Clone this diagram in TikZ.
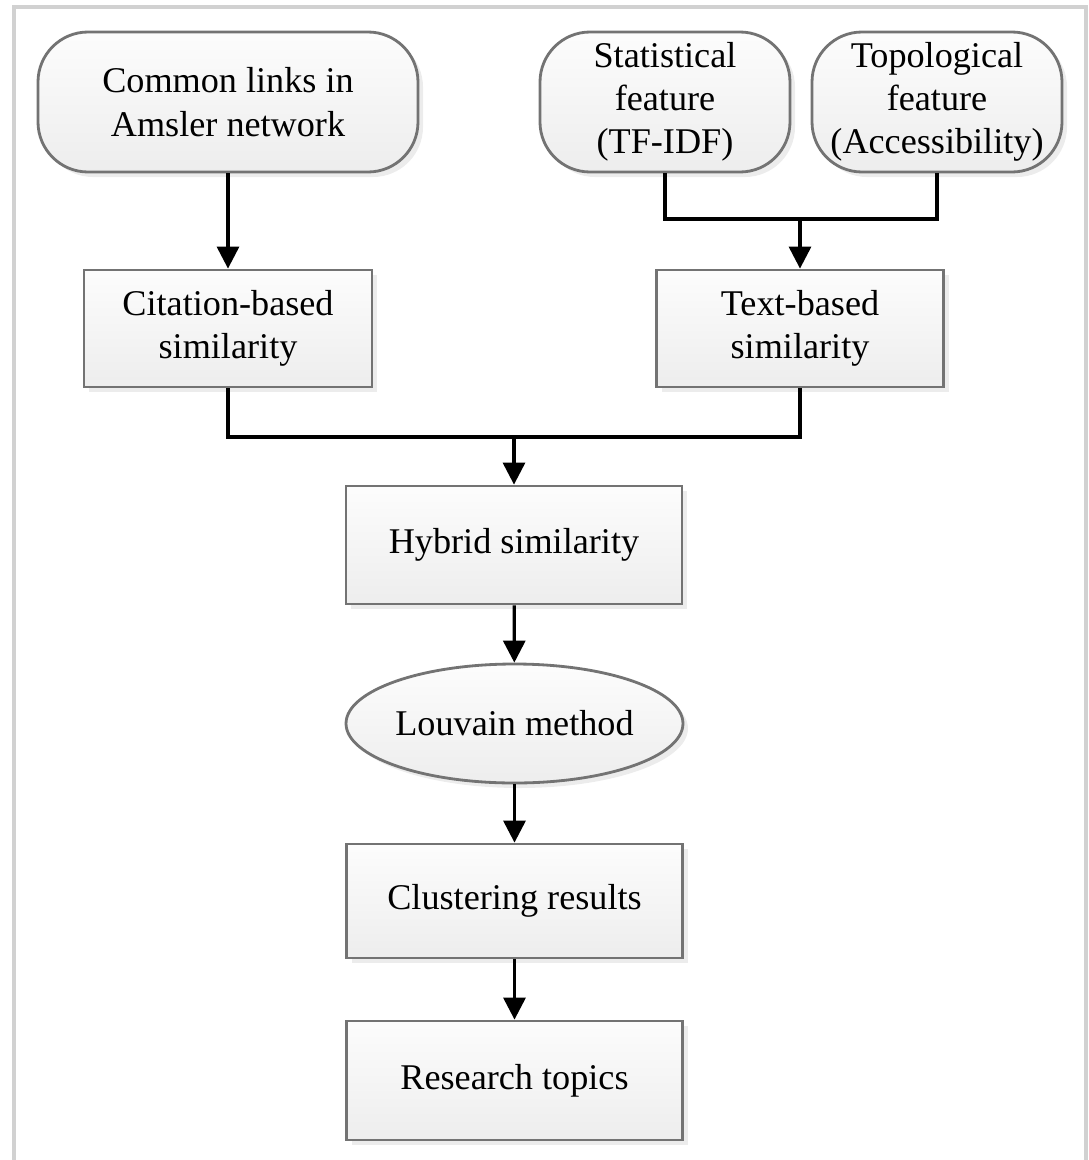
\documentclass[tikz,border=0pt]{standalone}
\usepackage{fontspec}
\setmainfont{Liberation Serif}
\usetikzlibrary{positioning, arrows.meta, shapes.geometric, shadows}

\begin{document}
\begin{tikzpicture}[
        >={Triangle[length=2.2mm, width=2.2mm]},
        font=\fontsize{10.3}{12.3}\selectfont,
        base/.style={draw=black!55, line width=0.8pt, top color=black!1, bottom color=black!7,
            drop shadow={opacity=0.15, shadow xshift=0.5mm, shadow yshift=-0.5mm},
            inner sep=0pt, align=center},
        source/.style={base, rectangle, rounded corners=0.5cm, minimum height=1.40cm},
        block/.style={base, rectangle, minimum height=1.18cm},
        oval/.style={base, ellipse, minimum width=3.36cm, minimum height=1.19cm},
        link/.style={line width=0.9pt, black},
        arrow/.style={link, ->},
    ]
    \useasboundingbox (0,0) rectangle (10.89,-11.60);

    % Outer frame
    \draw[black!18, line width=1.2pt] (0.14,-11.60) -- (0.14,-0.07) -- (10.86,-0.07) -- (10.86,-11.60);

    % Draw the input nodes
    \node[source, minimum width=3.80cm] (common) at (2.28,-1.02) {Common links in\\Amsler network};
    \node[source, minimum width=2.50cm] (stat) at (6.65,-1.02) {Statistical\\feature\\(TF-IDF)};
    \node[source, minimum width=2.50cm] (topo) at (9.37,-1.02) {Topological\\feature\\(Accessibility)};

    % Draw the similarity nodes
    \node[block, minimum width=2.88cm, minimum height=1.17cm] (cit) at (2.28,-3.285) {Citation-based\\similarity};
    \node[block, minimum width=2.87cm, minimum height=1.17cm] (text) at (8.00,-3.285) {Text-based\\similarity};
    \node[block, minimum width=3.36cm] (hybrid) at (5.14,-5.45) {Hybrid similarity};

    % Draw the method and the results
    \node[oval] (louvain) at (5.145,-7.235) {Louvain method};
    \node[block, minimum width=3.36cm, minimum height=1.14cm] (cluster) at (5.145,-9.01) {Clustering results};
    \node[block, minimum width=3.36cm, minimum height=1.19cm] (topics) at (5.145,-10.805) {Research topics};

    % Junctions
    \coordinate (tj) at (8.00,-2.19);
    \coordinate (hj) at (5.14,-4.37);

    % Connect the nodes
    \draw[arrow] (common) -- (cit);
    \draw[link] (stat) |- (tj) -| (topo);
    \draw[arrow] (tj) -- (text);
    \draw[link] (cit) |- (hj) -| (text);
    \draw[arrow] (hj) -- (hybrid);
    \draw[arrow] (hybrid) -- (louvain);
    \draw[arrow] (louvain) -- (cluster);
    \draw[arrow] (cluster) -- (topics);
\end{tikzpicture}
\end{document}
